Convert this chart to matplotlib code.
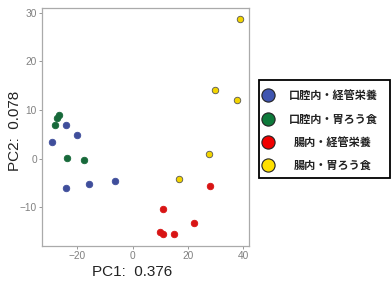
import matplotlib
matplotlib.use("Agg")
import matplotlib.pyplot as plt
from matplotlib.patches import Rectangle

plt.rcParams['font.family'] = ['Liberation Sans', 'Noto Sans CJK JP', 'DejaVu Sans']

groups = ["口腔内・経管栄養", "口腔内・胃ろう食", "腸内・経管栄養", "腸内・胃ろう食"]
colors = ["#3F4E9B", "#17693A", "#D81414", "#F2D400"]
legend_colors = ["#3F55B0", "#0E7A3B", "#F00000", "#FFE000"]

blue_x = [-24.1, -20.2, -29.2, -24.1, -16.0, -6.5]
blue_y = [6.9, 4.8, 3.5, -6.1, -5.2, -4.6]
green_x = [-26.7, -27.5, -28.3, -23.7, -17.6]
green_y = [8.9, 8.4, 7.0, 0.1, -0.3]
red_x = [27.8, 11.1, 22.0, 9.9, 11.1, 14.9]
red_y = [-5.7, -10.4, -13.3, -15.0, -15.6, -15.6]
yellow_x = [38.8, 29.9, 37.6, 27.6, 16.6]
yellow_y = [28.7, 14.1, 12.0, 1.0, -4.2]

xs = [blue_x, green_x, red_x, yellow_x]
ys = [blue_y, green_y, red_y, yellow_y]

xticks = [-20, 0, 20, 40]
yticks = [-10, 0, 10, 20, 30]

fig = plt.figure(figsize=(3.91, 2.82), dpi=100)
ax = fig.add_axes([0.107, 0.128, 0.530, 0.842])

for i in range(4):
    ec = "#555555" if i == 3 else colors[i]
    ax.scatter(xs[i], ys[i], s=22, color=colors[i], edgecolors=ec, linewidths=0.6, zorder=3)

ax.set_xlim(-32.9, 42.1)
ax.set_ylim(-17.95, 30.9)
ax.set_xticks(xticks)
ax.set_yticks(yticks)
ax.tick_params(colors="#888888", labelsize=7.3, length=2, width=0.6, pad=1.5,
               labelcolor="#808080")
for s in ax.spines.values():
    s.set_color("#AAAAAA")
    s.set_linewidth(0.9)

ax.set_xlabel("PC1:  0.376", fontsize=11, color="#222222")
ax.set_ylabel("PC2:  0.078", fontsize=11, color="#222222")
ax.xaxis.set_label_coords(0.438, -0.080)
ax.yaxis.set_label_coords(-0.095, 0.486)

# legend box (manual)
W, H = 391.0, 282.0
fig.add_artist(Rectangle((259 / W, 1 - 178 / H), 131 / W, 98 / H, transform=fig.transFigure,
                         facecolor="white", edgecolor="black", linewidth=1.3))
row_y = [95, 119, 142, 165]
for i in range(4):
    fig.add_artist(plt.Line2D([268 / W], [1 - row_y[i] / H], marker="o", markersize=9.5,
                              markerfacecolor=legend_colors[i], markeredgecolor="#222222",
                              markeredgewidth=0.8, linestyle="none", transform=fig.transFigure))
    fig.text(333 / W, 1 - row_y[i] / H, groups[i], ha="center", va="center", fontsize=8,
             family=["Noto Sans CJK JP", "DejaVu Sans"], fontweight="bold", color="#222222")

fig.savefig("out.png", dpi=100)
